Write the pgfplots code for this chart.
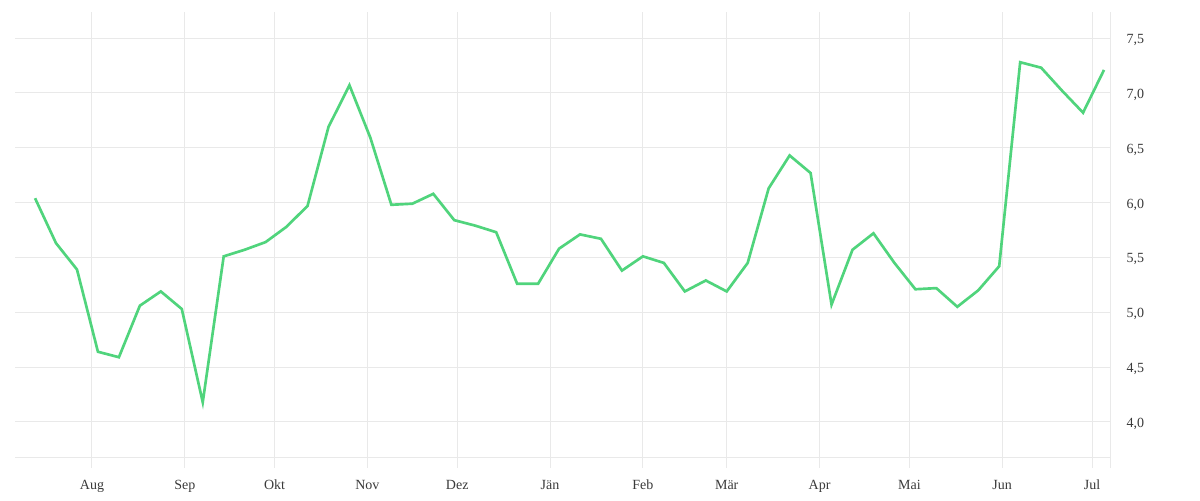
\documentclass[border=0pt]{standalone}
\usepackage{fontspec}
\setmainfont{Liberation Serif}
\usepackage{pgfplots}
\pgfplotsset{compat=1.18}
\usepackage{pgfplotstable}
\definecolor{linegreen}{RGB}{80,212,124}
\definecolor{gridgray}{RGB}{233,233,233}
\definecolor{labelgray}{RGB}{58,58,58}

% day index: 0 = 1 Aug
\pgfplotstableread{
d v
-19 6.04
-12 5.63
-5 5.39
2 4.64
9 4.59
16 5.06
23 5.19
30 5.03
37 4.18
44 5.51
51 5.57
58 5.64
65 5.78
72 5.97
79 6.69
86 7.07
93 6.59
100 5.98
107 5.99
114 6.08
121 5.84
128 5.79
135 5.73
142 5.26
149 5.26
156 5.58
163 5.71
170 5.67
177 5.38
184 5.51
191 5.45
198 5.19
205 5.29
212 5.19
219 5.45
226 6.13
233 6.43
240 6.27
247 5.07
254 5.57
261 5.72
268 5.45
275 5.21
282 5.22
289 5.05
296 5.20
303 5.42
310 7.28
317 7.23
324 7.02
331 6.82
338 7.21
}\series

\begin{document}
\begin{tikzpicture}
\useasboundingbox (-11.25pt,-24pt) rectangle (888.75pt,351pt);
\begin{axis}[
    at={(0,0)}, anchor=south west,
    scale only axis,
    width=821.25pt, height=342pt,
    xmin=-25.7, xmax=340,
    ymin=3.58, ymax=7.738,
    axis line style={draw=none},
    major tick length=0pt,
    grid=major,
    grid style={gridgray, line width=0.75pt},
    xtick={0,31,61,92,122,153,184,212,243,273,304,334},
    xticklabels={Aug,Sep,Okt,Nov,Dez,Jän,Feb,Mär,Apr,Mai,Jun,Jul},
    extra x ticks={340},
    extra x tick labels={},
    ytick={4,4.5,5,5.5,6,6.5,7,7.5},
    extra y ticks={3.672},
    extra y tick labels={},
    yticklabel pos=right,
    yticklabel style={anchor=west, xshift=9pt, yshift=-1.5pt},
    xticklabel style={anchor=base, yshift=-16pt},
    tick label style={font=\fontsize{10.5}{12}\selectfont, text=labelgray},
    /pgf/number format/.cd, fixed, fixed zerofill, precision=1, use comma, assume math mode=true,
]
\addplot[linegreen, line width=2pt, mark=none] table[x=d, y=v] {\series};
\end{axis}
\end{tikzpicture}
\end{document}
